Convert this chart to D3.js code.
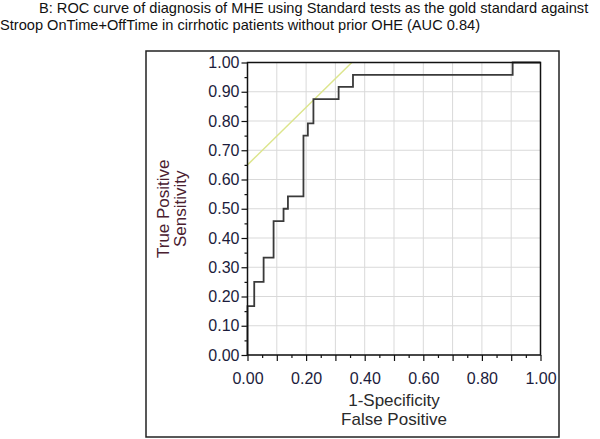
<!DOCTYPE html>
<html>
<head>
<meta charset="utf-8">
<script src="https://cdn.jsdelivr.net/npm/d3@7"></script>
<style>
  html, body { margin: 0; padding: 0; background: #fff; }
  svg { display: block; font-family: "Liberation Sans", Arial, sans-serif; }
</style>
</head>
<body>
<svg id="chart" width="600" height="439"></svg>
<script>
// ---- data ----
const titleLines = [
  "B: ROC curve of diagnosis of MHE using Standard tests as the gold standard against",
  "Stroop OnTime+OffTime in cirrhotic patients without prior OHE (AUC 0.84)"
];
const rocFPR = [0, 0, 0.023, 0.055, 0.089, 0.123, 0.138, 0.191, 0.206, 0.225, 0.311, 0.36, 0.905, 1.0];
const rocTPR = [0, 0.167, 0.25, 0.333, 0.458, 0.5, 0.542, 0.75, 0.792, 0.875, 0.917, 0.958, 1.0, 1.0];
const tangentX = [0, 0.356];
const tangentY = [0.65, 1.0];
const tickValues = [0, 0.1, 0.2, 0.3, 0.4, 0.5, 0.6, 0.7, 0.8, 0.9, 1.0];
const xTickLabels = [0, 0.2, 0.4, 0.6, 0.8, 1.0];
const minorTicks = [0.05, 0.15, 0.25, 0.35, 0.45, 0.55, 0.65, 0.75, 0.85, 0.95];
const xLabelLines = ["1-Specificity", "False Positive"];
const yLabelLines = ["True Positive", "Sensitivity"];

// ---- drawing ----
const svg = d3.select("#chart");
const x = d3.scaleLinear().domain([0, 1]).range([247.5, 540.5]);
const y = d3.scaleLinear().domain([0, 1]).range([355, 62.5]);

// title
svg.append("text").attr("x", 39).attr("y", 13).attr("font-size", 14.6).attr("fill", "#111").text(titleLines[0]);
svg.append("text").attr("x", 0).attr("y", 30).attr("font-size", 14.6).attr("fill", "#111").text(titleLines[1]);

// outer frame
svg.append("rect").attr("x", 146).attr("y", 51).attr("width", 413).attr("height", 386)
  .attr("fill", "none").attr("stroke", "#222").attr("stroke-width", 1.5);

// grid
const grid = svg.append("g");
tickValues.forEach(v => {
  grid.append("line").attr("x1", x(v)).attr("x2", x(v)).attr("y1", y(0)).attr("y2", y(1))
    .attr("stroke", "#d9d9d9").attr("stroke-width", 1);
  grid.append("line").attr("y1", y(v)).attr("y2", y(v)).attr("x1", x(0)).attr("x2", x(1))
    .attr("stroke", "#d9d9d9").attr("stroke-width", 1);
});

// axes
const fmt = d3.format(".2f");
const xAxis = svg.append("g").attr("transform", `translate(0,${y(0)})`)
  .call(d3.axisBottom(x).tickValues(tickValues).tickSize(6).tickSizeOuter(0)
    .tickFormat(d => xTickLabels.some(t => Math.abs(t - d) < 1e-9) ? fmt(d) : ""));
const xMinor = svg.append("g").attr("transform", `translate(0,${y(0)})`)
  .call(d3.axisBottom(x).tickValues(minorTicks).tickSize(3).tickFormat(""));
const yAxis = svg.append("g").attr("transform", `translate(${x(0)},0)`)
  .call(d3.axisLeft(y).tickValues(tickValues).tickSize(6).tickSizeOuter(0).tickFormat(fmt));
const yMinor = svg.append("g").attr("transform", `translate(${x(0)},0)`)
  .call(d3.axisLeft(y).tickValues(minorTicks).tickSize(3).tickFormat(""));
[xAxis, xMinor, yAxis, yMinor].forEach(g => {
  g.select(".domain").remove();
  g.selectAll(".tick line").attr("stroke", "#111").attr("stroke-width", 1.2);
});
xAxis.selectAll(".tick text").attr("font-size", 16).attr("fill", "#1c1c3c")
  .attr("font-family", "'Liberation Sans', Arial, sans-serif").attr("dy", "20px");
yAxis.selectAll(".tick text").attr("font-size", 16).attr("fill", "#1c1c3c")
  .attr("font-family", "'Liberation Sans', Arial, sans-serif").attr("x", -8);

// tangent line
svg.append("line")
  .attr("x1", x(tangentX[0])).attr("y1", y(tangentY[0]))
  .attr("x2", x(tangentX[1])).attr("y2", y(tangentY[1]))
  .attr("stroke", "#dce58c").attr("stroke-width", 1.5);

// ROC curve
const pts = rocFPR.map((f, i) => [f, rocTPR[i]]);
svg.append("path").datum(pts)
  .attr("d", d3.line().x(d => x(d[0])).y(d => y(d[1])).curve(d3.curveStepAfter))
  .attr("fill", "none").attr("stroke", "#3a3a3a").attr("stroke-width", 1.8);

// plot frame
svg.append("rect").attr("x", x(0)).attr("y", y(1)).attr("width", x(1) - x(0)).attr("height", y(0) - y(1))
  .attr("fill", "none").attr("stroke", "#111").attr("stroke-width", 1.5);

// axis labels
const cx = (x(0) + x(1)) / 2;
svg.append("text").attr("x", cx).attr("y", 406).attr("text-anchor", "middle")
  .attr("font-size", 17).attr("fill", "#2a2a2a").text(xLabelLines[0]);
svg.append("text").attr("x", cx).attr("y", 425).attr("text-anchor", "middle")
  .attr("font-size", 17).attr("fill", "#2a2a2a").text(xLabelLines[1]);
const cy = (y(0) + y(1)) / 2;
svg.append("text").attr("transform", `translate(169,${cy}) rotate(-90)`).attr("text-anchor", "middle")
  .attr("font-size", 17).attr("fill", "#4a2030").text(yLabelLines[0]);
svg.append("text").attr("transform", `translate(186,${cy}) rotate(-90)`).attr("text-anchor", "middle")
  .attr("font-size", 17).attr("fill", "#4a2030").text(yLabelLines[1]);
</script>
</body>
</html>
